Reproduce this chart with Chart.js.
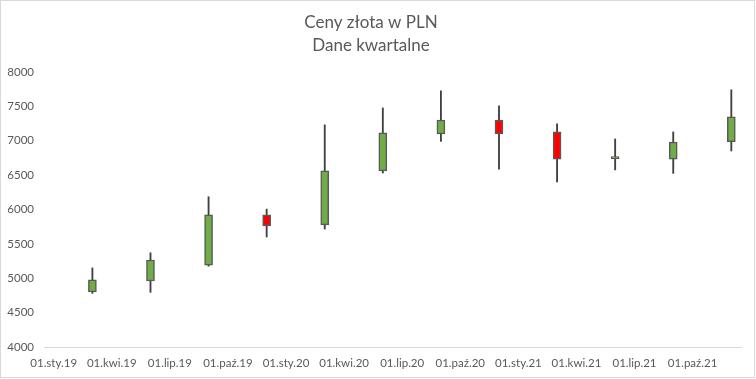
<!DOCTYPE html>
<html>
<head>
<meta charset="utf-8">
<script src="https://cdn.jsdelivr.net/npm/chart.js@4.4.1/dist/chart.umd.min.js"></script>
<style>
  body { margin: 0; background: #fff; }
  #wrap { width: 755px; height: 378px; box-sizing: border-box; border: 1px solid #d9d9d9; position: relative; }
</style>
</head>
<body>
<div id="wrap"><canvas id="myChart"></canvas></div>
<script>
// quarterly candles, Excel date axis with monthly base unit
const tickLabels = ['01.sty.19', '01.kwi.19', '01.lip.19', '01.paź.19', '01.sty.20', '01.kwi.20',
  '01.lip.20', '01.paź.20', '01.sty.21', '01.kwi.21', '01.lip.21', '01.paź.21'];
const openPrice  = [4800, 4960, 5190, 5920, 5775, 6560, 7100, 7300, 7127, 6740, 6730, 6985];
const highPrice  = [5150, 5370, 6185, 6005, 7230, 7476, 7725, 7505, 7245, 7025, 7127, 7740];
const lowPrice   = [4780, 4795, 5175, 5600, 5715, 6530, 6990, 6585, 6400, 6575, 6525, 6850];
const closePrice = [4975, 5265, 5920, 5760, 6560, 7113, 7300, 7100, 6730, 6740, 6980, 7345];

const textColor = '#595959';
const fontFamily = "Lato, sans-serif";

// 36 month slots, labels on the first month of each quarter, candle on the last
const months = [];
const wicks = [];
const bodies = [];
const bodyColors = [];
tickLabels.forEach((lab, q) => {
  for (let m = 0; m < 3; m++) {
    months.push(m === 0 ? lab : '');
    if (m === 2) {
      wicks.push([lowPrice[q], highPrice[q]]);
      bodies.push([openPrice[q], closePrice[q]]);
      bodyColors.push(closePrice[q] >= openPrice[q] ? '#70ad47' : '#ff0000');
    } else {
      wicks.push(null);
      bodies.push(null);
      bodyColors.push('#ffffff');
    }
  }
});

const ctx = document.getElementById('myChart').getContext('2d');
new Chart(ctx, {
  type: 'bar',
  data: {
    labels: months,
    datasets: [
      {
        label: 'body',
        data: bodies,
        backgroundColor: bodyColors,
        borderColor: '#595959',
        borderWidth: 1.5,
        borderSkipped: false,
        barThickness: 8,
        minBarLength: 2,
        grouped: false,
        order: 0
      },
      {
        label: 'wick',
        data: wicks,
        backgroundColor: '#404040',
        borderWidth: 0,
        barThickness: 1.2,
        grouped: false,
        order: 1
      }
    ]
  },
  options: {
    responsive: true,
    maintainAspectRatio: false,
    animation: false,
    layout: { padding: { left: 0, right: 13, top: 0, bottom: 0 } },
    plugins: {
      legend: { display: false },
      tooltip: { enabled: false },
      title: {
        display: true,
        text: ['Ceny złota w PLN', 'Dane kwartalne'],
        color: textColor,
        font: { family: fontFamily, size: 17, weight: 'normal', lineHeight: 1.35 },
        padding: { top: 10, bottom: 15 }
      }
    },
    scales: {
      x: {
        grid: { display: false, drawTicks: false },
        border: { display: true, color: '#d9d9d9', width: 1 },
        ticks: {
          autoSkip: false, maxRotation: 0, padding: 9,
          color: textColor, font: { family: fontFamily, size: 11.5 }
        },
        afterFit: s => { s.height = 30; }
      },
      y: {
        min: 4000,
        max: 8000,
        grid: { display: false, drawTicks: false },
        border: { display: false },
        ticks: {
          stepSize: 500, padding: 10,
          color: textColor, font: { family: fontFamily, size: 11.5 },
          callback: v => String(v)
        },
        afterFit: s => { s.width = 43; }
      }
    }
  }
});
</script>
</body>
</html>
